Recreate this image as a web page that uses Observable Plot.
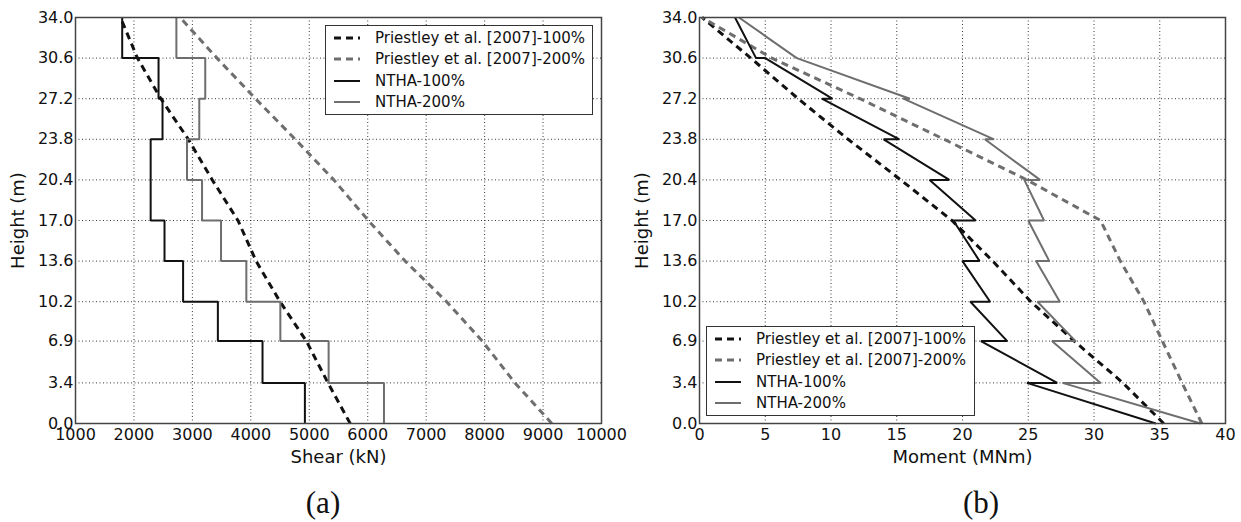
<!DOCTYPE html>
<html>
<head>
<meta charset="utf-8">
<script src="https://cdn.jsdelivr.net/npm/d3@7"></script>
<script src="https://cdn.jsdelivr.net/npm/@observablehq/plot@0.6"></script>
<style>
  body { margin: 0; background: #fff; }
  #wrap { position: relative; width: 1241px; height: 522px; overflow: hidden; background: #fff; font-family: "DejaVu Sans", sans-serif; }
  .panel { position: absolute; top: 0; }
  .panel svg { overflow: visible; }
  .legend { position: absolute; border: 1.5px solid #333; background: #fff; box-sizing: border-box;
            font-family: "DejaVu Sans", sans-serif; font-size: 15px; color: #111; padding-top: 1px; }
  .legend .row { height: 21.5px; display: flex; align-items: center; white-space: nowrap; }
  .legend svg { margin-left: 8px; margin-right: 15px; flex: none; }
  .tag { position: absolute; font-family: "Liberation Serif", "Times New Roman", serif; font-size: 31px; color: #111; transform: translate(-50%, -50%); }
</style>
</head>
<body>
<div id="wrap">
  <div id="left" class="panel" style="left:0px"></div>
  <div id="right" class="panel" style="left:620px"></div>
  <div id="legA" class="legend" style="left:325px; top:25px; width:268px; height:90px"></div>
  <div id="legB" class="legend" style="left:706px; top:326px; width:269px; height:90px"></div>
  <div class="tag" style="left:323px; top:503px">(a)</div>
  <div class="tag" style="left:981px; top:503px">(b)</div>
</div>
<script>
// ---- data ----
const floorHeights = [0, 3.4, 6.9, 10.2, 13.6, 17.0, 20.4, 23.8, 27.2, 30.6, 34.0];
const heightTicks = [0, 3.4, 6.9, 10.2, 13.6, 17.0, 20.4, 23.8, 27.2, 30.6, 34.0];
const shearTicks = [1000, 2000, 3000, 4000, 5000, 6000, 7000, 8000, 9000, 10000];
const momentTicks = [0, 5, 10, 15, 20, 25, 30, 35, 40];

// Shear (kN), values at floor heights (ascending)
const shearPriestley100 = [5700, 5320, 4950, 4500, 4090, 3780, 3340, 2930, 2460, 2060, 1770];
const shearPriestley200 = [9150, 8520, 7960, 7350, 6640, 6010, 5420, 4760, 4080, 3420, 2790];
// NTHA storey shears (constant within each storey, storey i between floorHeights[i] and floorHeights[i+1])
const shearNTHA100 = [4925, 4200, 3436, 2841, 2523, 2286, 2286, 2489, 2421, 1799];
const shearNTHA200 = [6278, 5331, 4505, 3923, 3490, 3165, 2908, 3118, 3220, 2726];

// Moment (MNm), values at floor heights (ascending)
const momentPriestley100 = [35.3, 32.2, 28.5, 25.2, 22.3, 19.2, 15.3, 11.3, 7.5, 3.9, 0.2];
const momentPriestley200 = [38.2, 36.7, 35.2, 33.8, 32.0, 30.5, 24.9, 18.6, 12.2, 5.5, 0.2];
// NTHA moments at each floor: value reached coming from above, value after the jump (descending heights)
const momentHeightsDesc = [34.0, 30.6, 27.2, 23.8, 20.4, 17.0, 13.6, 10.2, 6.9, 3.4, 0];
const momentNTHA100Above = [2.7, 4.3, 10.1, 15.2, 19.0, 21.0, 21.3, 22.1, 23.4, 27.2, 34.7];
const momentNTHA100Below = [2.7, 5.0, 9.3, 14.0, 17.5, 19.3, 20.0, 20.6, 21.4, 24.9, 34.7];
const momentNTHA200Above = [3.0, 7.4, 16.0, 22.4, 25.9, 26.2, 26.6, 27.4, 28.6, 30.5, 38.1];
const momentNTHA200Below = [3.0, 7.4, 15.5, 21.7, 24.7, 25.0, 25.6, 25.7, 26.8, 27.6, 38.1];

const seriesNames = ["Priestley et al. [2007]-100%", "Priestley et al. [2007]-200%", "NTHA-100%", "NTHA-200%"];

// ---- styles ----
const BLACK = "#111";
const GREY = "#6e6e6e";
const styles = [
  {stroke: BLACK, strokeWidth: 3, dash: "7,5"},
  {stroke: GREY, strokeWidth: 3, dash: "7,5"},
  {stroke: BLACK, strokeWidth: 2, dash: null},
  {stroke: GREY, strokeWidth: 2, dash: null}
];

// ---- build tables ----
const pts = (xs, ys) => xs.map((v, i) => ({x: v, y: ys[i]}));
function stepPts(vals) {
  const out = [];
  vals.forEach((v, i) => { out.push({x: v, y: floorHeights[i]}); out.push({x: v, y: floorHeights[i + 1]}); });
  return out;
}
function jogPts(above, below) {
  const out = [];
  momentHeightsDesc.forEach((h, i) => {
    out.push({x: above[i], y: h});
    if (below[i] !== above[i]) out.push({x: below[i], y: h});
  });
  return out;
}

const leftSeries = [
  pts(shearPriestley100, floorHeights),
  pts(shearPriestley200, floorHeights),
  stepPts(shearNTHA100),
  stepPts(shearNTHA200)
];
const rightSeries = [
  pts(momentPriestley100, floorHeights),
  pts(momentPriestley200, floorHeights),
  jogPts(momentNTHA100Above, momentNTHA100Below),
  jogPts(momentNTHA200Above, momentNTHA200Below)
];

function lineMarks(series) {
  return series.map((d, i) => Plot.line(d, {
    x: "x", y: "y", stroke: styles[i].stroke, strokeWidth: styles[i].strokeWidth,
    strokeDasharray: styles[i].dash || undefined, strokeLinejoin: "miter", strokeLinecap: "butt"
  }));
}

function panel({width, marginLeft, marginRight, xDomain, xTicks, xLabel, series}) {
  const svg = Plot.plot({
    width, height: 480,
    marginLeft, marginRight, marginTop: 17, marginBottom: 57,
    style: {fontFamily: "DejaVu Sans, sans-serif", fontSize: "16px", color: "#111", background: "transparent", overflow: "visible"},
    x: {domain: xDomain, label: null},
    y: {domain: [0, 34], label: null},
    marks: [
      Plot.gridX(xTicks, {stroke: "#222", strokeOpacity: 0.9, strokeWidth: 1, strokeDasharray: "1,2.5"}),
      Plot.gridY(heightTicks, {stroke: "#222", strokeOpacity: 0.9, strokeWidth: 1, strokeDasharray: "1,2.5"}),
      Plot.axisX(xTicks, {tickSize: 0, tickPadding: 5, tickFormat: d => String(d), fontSize: 16, label: null}),
      Plot.axisX({ticks: [], tickSize: 0, label: xLabel, labelAnchor: "center", labelArrow: false, labelOffset: 39, fontSize: 18}),
      Plot.axisY(heightTicks, {tickSize: 0, tickPadding: 2, tickFormat: d => d.toFixed(1), fontSize: 16, label: null}),
      Plot.axisY({ticks: [], tickSize: 0, label: "Height (m)", labelAnchor: "center", labelArrow: false, labelOffset: 64, fontSize: 18}),
      ...lineMarks(series),
      Plot.frame({stroke: "#444", strokeWidth: 1.5})
    ]
  });
  svg.style.overflow = "visible";
  return svg;
}

document.getElementById("left").append(panel({
  width: 620, marginLeft: 75, marginRight: 19, xDomain: [1000, 10000], xTicks: shearTicks,
  xLabel: "Shear (kN)", series: leftSeries
}));
document.getElementById("right").append(panel({
  width: 621, marginLeft: 79, marginRight: 16, xDomain: [0, 40], xTicks: momentTicks,
  xLabel: "Moment (MNm)", series: rightSeries
}));

// ---- legends ----
function fillLegend(id) {
  const el = document.getElementById(id);
  seriesNames.forEach((name, i) => {
    const row = document.createElement("div");
    row.className = "row";
    const s = styles[i];
    row.innerHTML = `<svg width="26" height="10"><line x1="0" y1="5" x2="26" y2="5" stroke="${s.stroke}" stroke-width="${s.strokeWidth}" ${s.dash ? `stroke-dasharray="${s.dash}"` : ""}/></svg><span>${name}</span>`;
    el.append(row);
  });
}
fillLegend("legA");
fillLegend("legB");
</script>
</body>
</html>
